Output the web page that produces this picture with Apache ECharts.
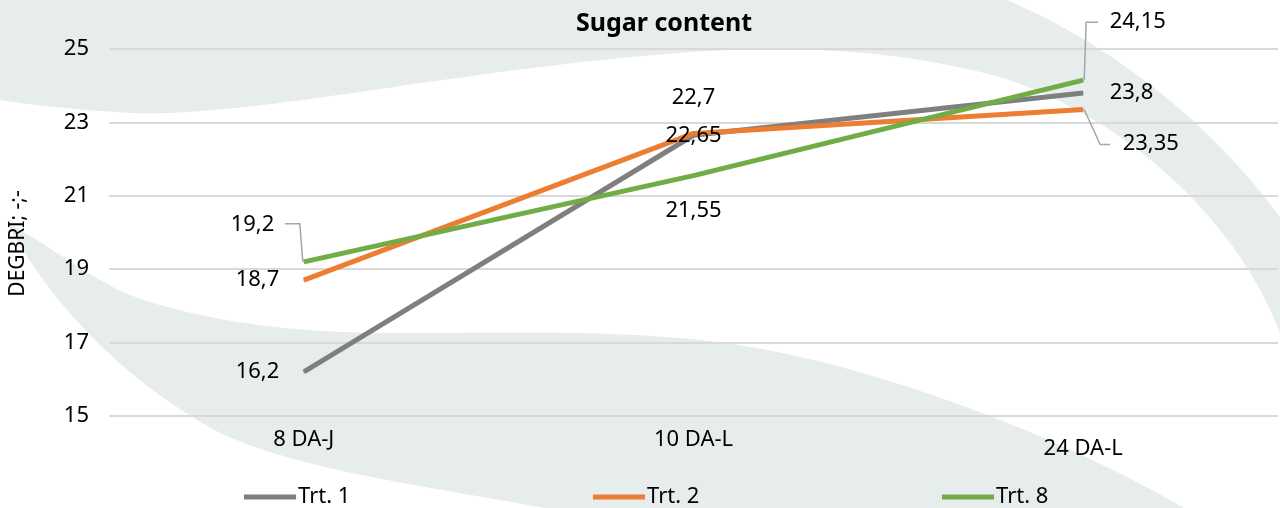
<!DOCTYPE html>
<html>
<head>
<meta charset="utf-8">
<script src="https://cdn.jsdelivr.net/npm/echarts@6/dist/echarts.min.js"></script>
<style>
  html, body { margin: 0; padding: 0; background: #fff; }
  #sugar-chart { width: 1280px; height: 508px; }
</style>
</head>
<body>
<div id="sugar-chart"></div>
<script>
var categories = ['8 DA-J', '10 DA-L', '24 DA-L'];
var trt1 = [16.2, 22.65, 23.8];
var trt2 = [18.7, 22.7, 23.35];
var trt8 = [19.2, 21.55, 24.15];
var seriesNames = ['Trt. 1', 'Trt. 2', 'Trt. 8'];
var yTicks = { min: 15, max: 25, step: 2 };

var font = '"Noto Sans", sans-serif';
var bandColor = '#e7edec';

// label placement per point (Excel-style manual layout)
// lead: elbow leader line -> [dx of knee, dy to label, horizontal arm]
var labelSpots = [
  [{ position: 'left', distance: 24 }, { position: 'inside' }, { position: 'right', distance: 26 }],
  [{ position: 'left', distance: 24 }, { position: 'top', distance: 24 }, { position: 'right', distance: 39, offset: [0, 34], lead: [17, 35, 10] }],
  [{ position: 'left', distance: 29, offset: [0, -37], lead: [-4, -38, -15] }, { position: 'bottom', distance: 24 }, { position: 'right', distance: 26, offset: [0, -58], lead: [3, -58, 12] }]
];

function commaNum(v) {
  return String(v).replace('.', ',');
}

// turn a start point + list of cubic segments into polygon points (background swooshes)
function curvePoints(start, segs) {
  var pts = [start];
  var p0 = start;
  segs.forEach(function (s) {
    if (s.length === 2) { pts.push(s); p0 = s; return; }
    for (var t = 1; t <= 24; t++) {
      var u = t / 24, m = 1 - u;
      pts.push([
        m * m * m * p0[0] + 3 * m * m * u * s[0] + 3 * m * u * u * s[2] + u * u * u * s[4],
        m * m * m * p0[1] + 3 * m * m * u * s[1] + 3 * m * u * u * s[3] + u * u * u * s[5]
      ]);
    }
    p0 = [s[4], s[5]];
  });
  return pts;
}

var topSwoosh = curvePoints([0, 0], [
  [1007, 0],
  [1100, 40, 1200, 110, 1280, 217],
  [1280, 333],
  [1235, 215, 1120, 115, 1000, 77],
  [900, 50, 800, 45, 690, 52],
  [450, 70, 250, 118, 130, 113],
  [80, 110, 30, 105, 0, 100]
]);
var lowSwoosh = curvePoints([7, 223], [
  [60, 250, 100, 290, 160, 305],
  [250, 330, 330, 333, 408, 333],
  [520, 333, 600, 330, 700, 340],
  [850, 355, 1050, 430, 1184, 508],
  [545, 508],
  [420, 485, 300, 470, 220, 433],
  [140, 390, 60, 320, 7, 223]
]);

var background = [
  { type: 'polygon', z: -100, silent: true, shape: { points: topSwoosh }, style: { fill: bandColor } },
  { type: 'polygon', z: -100, silent: true, shape: { points: lowSwoosh }, style: { fill: bandColor } }
];

function buildData(values, spots) {
  return values.map(function (v, i) {
    var s = spots[i];
    var item = {
      value: v,
      label: { position: s.position, distance: s.distance || 0 }
    };
    if (s.offset) item.label.offset = s.offset;
    return item;
  });
}

var colors = ['#7f7f7f', '#ed7d31', '#70ad47'];
var allValues = [trt1, trt2, trt8];

var series = allValues.map(function (vals, k) {
  return {
    name: seriesNames[k],
    type: 'line',
    data: buildData(vals, labelSpots[k]),
    symbol: 'circle',
    symbolSize: 1,
    lineStyle: { width: 5, color: colors[k] },
    itemStyle: { color: colors[k] },
    label: {
      show: true,
      color: '#000',
      fontFamily: font,
      fontSize: 22,
      formatter: function (p) { return commaNum(p.value); }
    },
    emphasis: { disabled: true },
    animation: false
  };
});

var legends = seriesNames.map(function (n, k) {
  return {
    data: [n],
    left: [239, 588, 937][k],
    top: 481,
    icon: 'rect',
    itemWidth: 52,
    itemHeight: 5,
    itemGap: 0,
    textStyle: { color: '#000', fontFamily: font, fontSize: 22, padding: [0, 0, 0, -3] }
  };
});

var myChart = echarts.init(document.getElementById('sugar-chart'), null, { renderer: 'canvas' });

var option = {
  backgroundColor: '#fff',
  animation: false,
  color: colors,
  title: {
    text: 'Sugar content',
    left: 659,
    textAlign: 'center',
    top: 6,
    textStyle: { color: '#000', fontFamily: font, fontSize: 25, fontWeight: 'bold' }
  },
  legend: legends,
  graphic: background,
  grid: { left: 101, right: 2, top: 49, bottom: 92 },
  xAxis: {
    type: 'category',
    data: categories.map(function (c, i) {
      return i === 2 ? { value: c, textStyle: { padding: [9, 0, 0, 0] } } : c;
    }),
    boundaryGap: true,
    axisLine: { show: false },
    axisTick: { show: false },
    axisLabel: { color: '#000', fontFamily: font, fontSize: 22, margin: 13 }
  },
  yAxis: {
    type: 'value',
    min: yTicks.min,
    max: yTicks.max,
    interval: yTicks.step,
    name: 'DEGBRI; -;-',
    nameLocation: 'middle',
    nameGap: 80,
    nameRotate: 90,
    nameTextStyle: { color: '#000', fontFamily: font, fontSize: 21, padding: [0, 0, 0, -22] },
    axisLine: { show: false },
    axisTick: { show: false },
    axisLabel: { color: '#000', fontFamily: font, fontSize: 22, margin: 20 },
    splitLine: { lineStyle: { color: '#d9d9d9', width: 2 } }
  },
  series: series
};

myChart.setOption(option);

// elbow leader lines, anchored on the points through the chart's own scales
var leaders = [];
labelSpots.forEach(function (spots, k) {
  spots.forEach(function (s, i) {
    if (!s.lead) return;
    var p = myChart.convertToPixel({ seriesIndex: k }, [i, allValues[k][i]]);
    var knee = [p[0] + s.lead[0], p[1] + s.lead[1]];
    leaders.push({
      type: 'polyline',
      z: 50,
      silent: true,
      shape: { points: [[p[0] + (s.lead[0] > 0 ? 1 : -1), p[1]], knee, [knee[0] + s.lead[2], knee[1]]] },
      style: { stroke: '#a6a6a6', lineWidth: 1.5, fill: null }
    });
  });
});
myChart.setOption({ graphic: background.concat(leaders) });
</script>
</body>
</html>
